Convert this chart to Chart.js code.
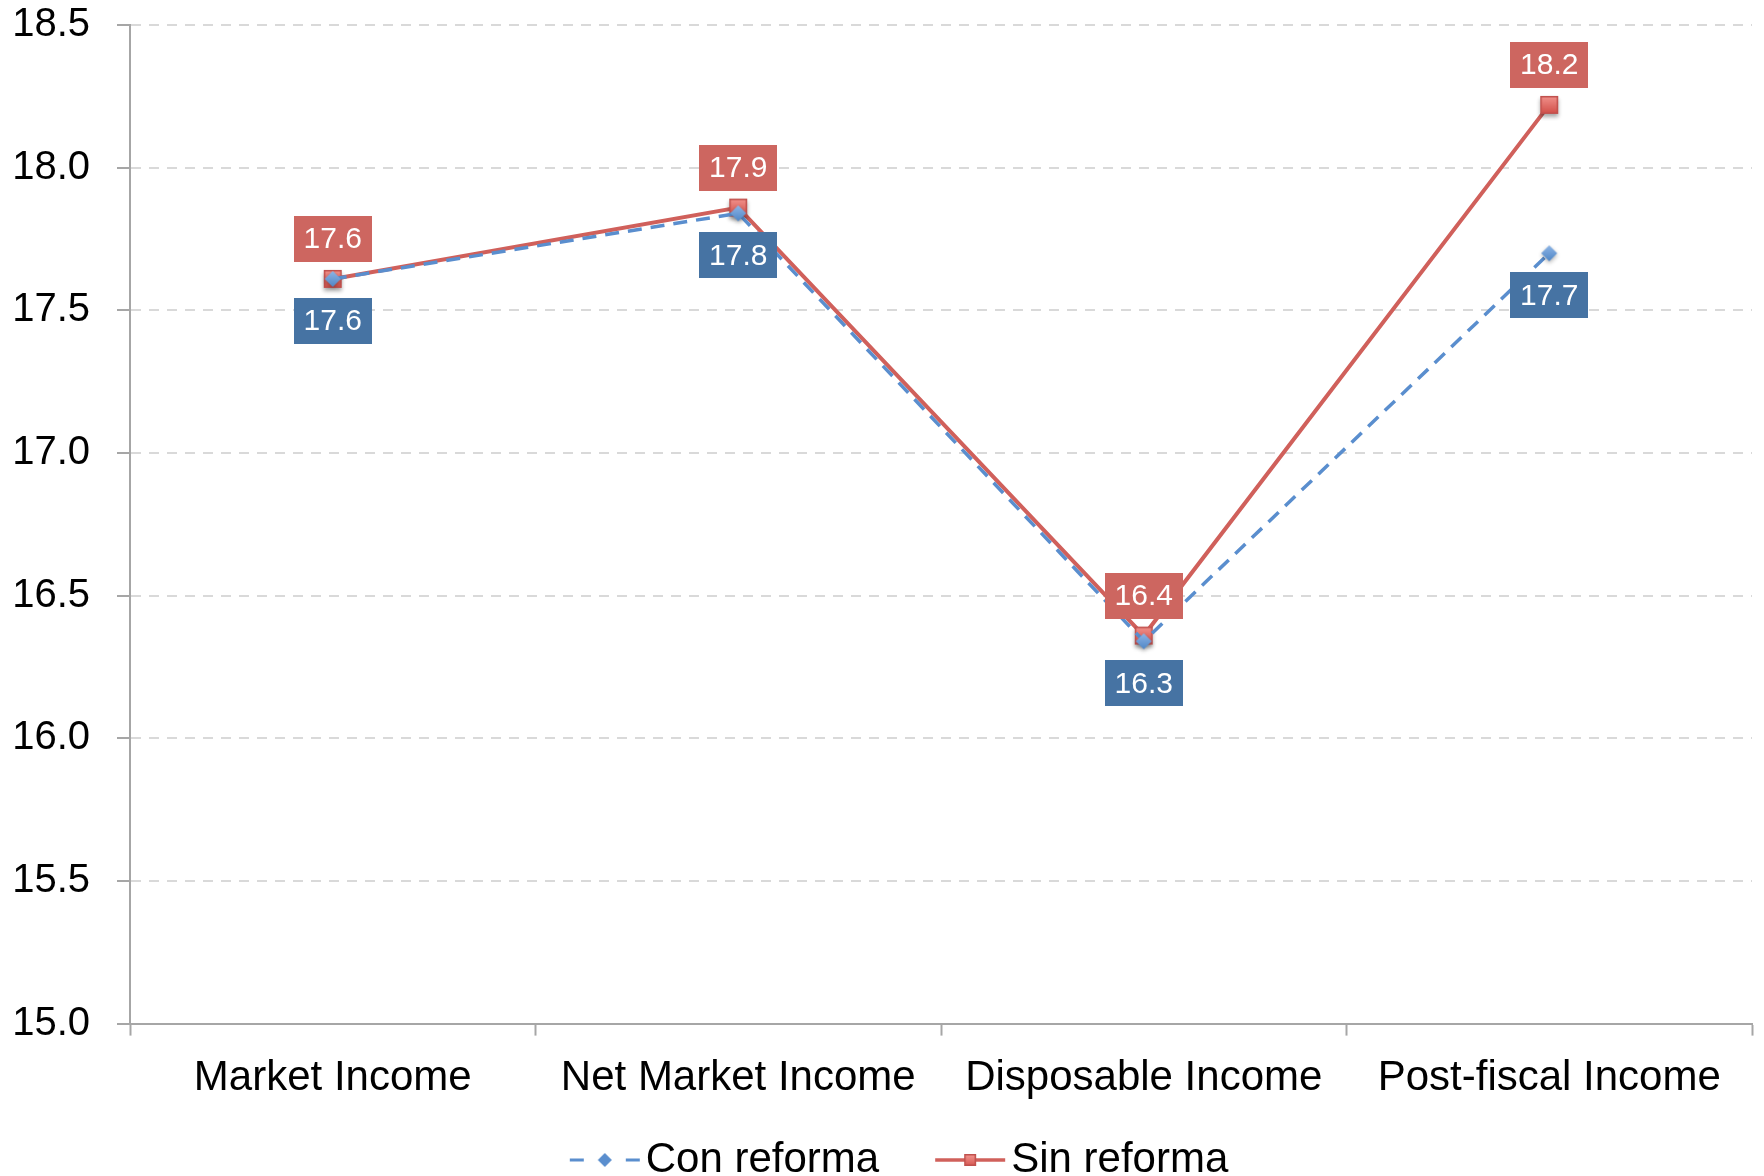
<!DOCTYPE html>
<html>
<head>
<meta charset="utf-8">
<script src="https://cdn.jsdelivr.net/npm/chart.js@4.4.1/dist/chart.umd.min.js"></script>
<style>
  html, body { margin: 0; padding: 0; background: #fff; }
  #wrap { width: 1764px; height: 1176px; }
</style>
</head>
<body>
<div id="wrap"><canvas id="lineChart" width="1764" height="1176"></canvas></div>
<script>
// Datos
const categories = ["Market Income", "Net Market Income", "Disposable Income", "Post-fiscal Income"];
const conReforma = [17.61, 17.84, 16.34, 17.70];
const sinReforma = [17.61, 17.86, 16.36, 18.22];
const yTicks = [15.0, 15.5, 16.0, 16.5, 17.0, 17.5, 18.0, 18.5];

const BLUE_LINE = "#5A8ECE";
const RED_LINE = "#D0605B";
const BLUE_BOX = "#4673A3";
const RED_BOX = "#CD6660";
const AXIS = "#A6A6A6";
const FONT = '"Liberation Sans", Arial, sans-serif';

// Marcadores con degradado y sombra
function squareMarker(size) {
  const c = document.createElement("canvas");
  c.width = size + 14; c.height = size + 14;
  const g = c.getContext("2d");
  const x0 = 7, y0 = 5;
  g.shadowColor = "rgba(0,0,0,0.35)";
  g.shadowBlur = 4;
  g.shadowOffsetY = 3;
  const grad = g.createLinearGradient(0, y0, 0, y0 + size);
  grad.addColorStop(0, "#F59A94");
  grad.addColorStop(1, "#D4554F");
  g.fillStyle = grad;
  g.fillRect(x0, y0 + 2, size, size);
  g.shadowColor = "transparent";
  g.strokeStyle = "#C0504D";
  g.lineWidth = 1.5;
  g.strokeRect(x0 + 0.75, y0 + 2.75, size - 1.5, size - 1.5);
  return c;
}

function diamondMarker(size) {
  const c = document.createElement("canvas");
  c.width = size + 14; c.height = size + 14;
  const g = c.getContext("2d");
  const cx = c.width / 2, cy = c.height / 2, r = size / 2;
  g.shadowColor = "rgba(0,0,0,0.3)";
  g.shadowBlur = 4;
  g.shadowOffsetY = 2;
  const grad = g.createLinearGradient(0, cy - r, 0, cy + r);
  grad.addColorStop(0, "#8DB5E6");
  grad.addColorStop(1, "#4F86C6");
  g.fillStyle = grad;
  g.beginPath();
  g.moveTo(cx, cy - r); g.lineTo(cx + r, cy); g.lineTo(cx, cy + r); g.lineTo(cx - r, cy);
  g.closePath();
  g.fill();
  return c;
}

// Símbolos de la leyenda: línea + marcador, a la derecha del centro de la imagen
function legendSymbol(kind) {
  const c = document.createElement("canvas");
  c.width = 124; c.height = 24;
  const g = c.getContext("2d");
  const x0 = 47, cy = 12;
  if (kind === "con") {
    g.strokeStyle = BLUE_LINE;
    g.lineWidth = 3;
    g.beginPath();
    g.moveTo(x0, cy); g.lineTo(x0 + 14, cy);
    g.moveTo(x0 + 56, cy); g.lineTo(x0 + 70, cy);
    g.stroke();
    g.fillStyle = "#5A8ECE";
    g.beginPath();
    g.moveTo(x0 + 35, cy - 7); g.lineTo(x0 + 42, cy); g.lineTo(x0 + 35, cy + 7); g.lineTo(x0 + 28, cy);
    g.closePath();
    g.fill();
  } else {
    g.strokeStyle = RED_LINE;
    g.lineWidth = 3.5;
    g.beginPath();
    g.moveTo(x0, cy); g.lineTo(x0 + 70, cy);
    g.stroke();
    const grad = g.createLinearGradient(0, cy - 6, 0, cy + 6);
    grad.addColorStop(0, "#F59A94");
    grad.addColorStop(1, "#D4554F");
    g.fillStyle = grad;
    g.fillRect(x0 + 29, cy - 6, 12, 12);
    g.strokeStyle = "#C0504D";
    g.lineWidth = 1.5;
    g.strokeRect(x0 + 29.75, cy - 5.25, 10.5, 10.5);
  }
  return c;
}

const legendImgs = [legendSymbol("con"), legendSymbol("sin")];

// Etiquetas de valor en cajas de color
const valueBoxes = {
  id: "valueBoxes",
  afterDatasetsDraw(chart) {
    const ctx = chart.ctx;
    ctx.save();
    ctx.font = "30px " + FONT;
    ctx.textAlign = "center";
    ctx.textBaseline = "middle";
    chart.data.datasets.forEach((ds, i) => {
      const meta = chart.getDatasetMeta(i);
      meta.data.forEach((pt, j) => {
        const txt = ds.data[j].toFixed(1);
        const w = ctx.measureText(txt).width + 20;
        const h = 46;
        const cy = pt.y + ds.labelShift;
        ctx.fillStyle = ds.labelColor;
        ctx.fillRect(Math.round(pt.x - w / 2), Math.round(cy - h / 2), Math.round(w), h);
        ctx.fillStyle = "#FFFFFF";
        ctx.fillText(txt, pt.x, cy + 1);
      });
    });
    ctx.restore();
  }
};

const ctx = document.getElementById("lineChart").getContext("2d");
const lineChart = new Chart(ctx, {
  type: "line",
  data: {
    labels: categories,
    datasets: [
      {
        label: "Con reforma",
        data: conReforma,
        borderColor: BLUE_LINE,
        borderWidth: 3.5,
        borderDash: [14, 9],
        pointStyle: diamondMarker(16),
        pointRadius: 8,
        tension: 0,
        labelShift: 42,
        labelColor: BLUE_BOX
      },
      {
        label: "Sin reforma",
        data: sinReforma,
        borderColor: RED_LINE,
        borderWidth: 4,
        pointStyle: squareMarker(18),
        pointRadius: 8,
        tension: 0,
        labelShift: -40,
        labelColor: RED_BOX
      }
    ]
  },
  options: {
    responsive: false,
    animation: false,
    layout: { padding: { left: 10, right: 1, top: 4, bottom: -15 } },
    plugins: {
      tooltip: { enabled: false },
      legend: {
        position: "bottom",
        labels: {
          color: "#000",
          font: { family: FONT, size: 42 },
          usePointStyle: true,
          pointStyleWidth: 80,
          boxHeight: 24,
          padding: 31,
          generateLabels(chart) {
            const items = Chart.defaults.plugins.legend.labels.generateLabels(chart);
            items.forEach((it, k) => { it.pointStyle = legendImgs[k]; });
            return items;
          }
        }
      }
    },
    scales: {
      x: {
        offset: true,
        afterFit(scale) { scale.height -= 14; },
        grid: {
          offset: true,
          drawOnChartArea: false,
          drawTicks: true,
          tickLength: 12,
          tickColor: AXIS,
          tickWidth: 2
        },
        border: { color: AXIS, width: 2 },
        ticks: {
          color: "#000",
          font: { family: FONT, size: 42 },
          padding: 18,
          maxRotation: 0
        }
      },
      y: {
        min: yTicks[0],
        max: yTicks[yTicks.length - 1],
        afterBuildTicks(scale) {
          scale.ticks = yTicks.map(v => ({ value: v }));
        },
        afterFit(scale) {
          scale.width = 120;
          scale.paddingTop = 25;
          scale.paddingBottom = 0;
        },
        grid: {
          color: "#D9D9D9",
          lineWidth: 2,
          tickLength: 13,
          tickColor: AXIS,
          tickWidth: 2,
          tickBorderDash: []
        },
        border: { color: AXIS, width: 2, dash: [10, 8] },
        ticks: {
          color: "#000",
          font: { family: FONT, size: 40 },
          padding: 27,
          callback: v => Number(v).toFixed(1)
        }
      }
    }
  },
  plugins: [valueBoxes]
});
</script>
</body>
</html>
